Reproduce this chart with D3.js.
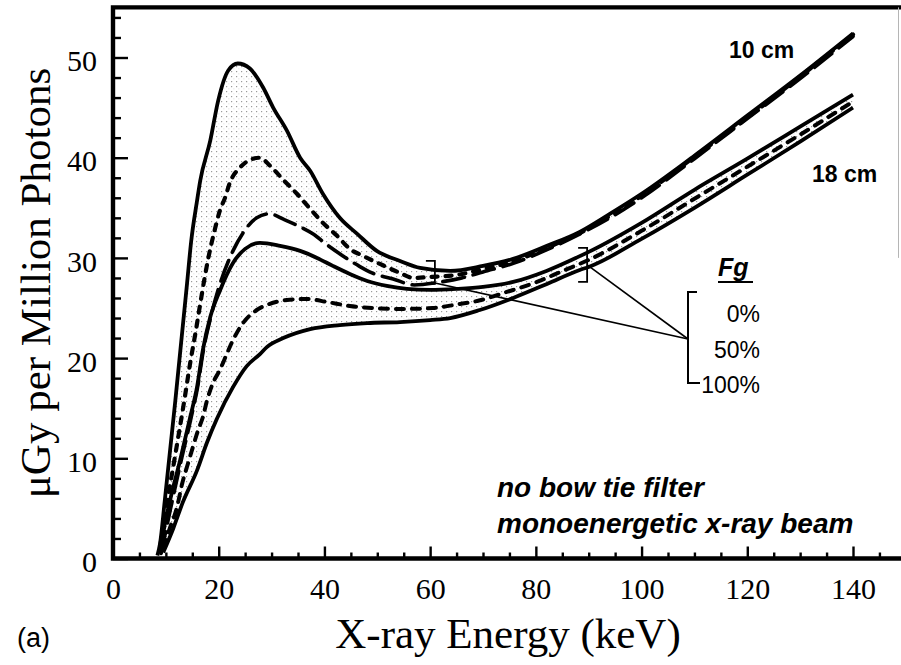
<!DOCTYPE html>
<html>
<head>
<meta charset="utf-8">
<script src="https://cdn.jsdelivr.net/npm/d3@7"></script>
<style>
  html, body { margin: 0; padding: 0; background: #fff; }
  svg { display: block; }
</style>
</head>
<body>
<svg id="chart" width="901" height="665"></svg>
<script>
// Absorbed dose per million photons vs monoenergetic x-ray energy.
// Each series holds [energy (keV), dose (µGy per million photons)].

const xMajorTicks = [0, 20, 40, 60, 80, 100, 120, 140];
const yMajorTicks = [0, 10, 20, 30, 40, 50];
const fgLevels = ["0%", "50%", "100%"];
const depthLabels = ["10 cm", "18 cm"];

// 10 cm phantom
const cm10_fg0 = [[8.4,0.3],[8.9,1.5],[9.8,5.8],[11.8,15.8],[14.0,27.4],[14.8,31.7],[15.9,35.7],[16.5,37.7],[18.4,41.7],[19.9,45.7],[21.8,48.7],[23.6,49.4],[25.9,48.9],[28.4,47.0],[30.3,45.0],[32.9,42.7],[35.4,40.0],[37.3,38.7],[39.7,36.4],[42.9,34.0],[46.2,32.4],[49.9,30.7],[54.3,29.7],[58.1,29.0],[63.8,28.7],[70,29.2],[75.7,29.9],[82.1,31.2],[88.3,32.6],[94,34.4],[100,36.4],[110,40.2],[120,44.2],[130,48.2],[140,52.4]];
const cm10_fg50 = [[8.9,1.1],[9.9,4.5],[11.7,10.1],[13.5,15.8],[14.6,19.5],[15.6,22.5],[16.5,25.4],[17.4,28.2],[18.0,29.9],[19.3,32.9],[20.2,34.7],[21.2,36.0],[22.1,37.5],[24.0,39.0],[26.5,39.9],[27.8,40.0],[29.7,39.2],[32.2,37.8],[34.8,36.4],[37.3,34.9],[39.7,33.5],[42.4,32.2],[44.8,30.9],[47.3,30.2],[50.5,29.4],[54.3,28.5],[56.8,28.0],[60,28.1],[65,28.3],[70,28.9],[76,29.7],[82,31.0],[88,32.4],[94,34.2],[100,36.2],[110,40.1],[120,44.0],[130,48.1],[140,52.3]];
const cm10_fg100 = [[9.1,0.5],[10.9,5.0],[12.9,9.8],[14.8,14.1],[16.0,17.1],[17.1,20.8],[18.4,23.9],[20.0,27.0],[22.7,30.7],[25.0,32.8],[27.2,34.0],[29.5,34.4],[32.5,33.8],[35.0,33.2],[37.8,32.4],[40.5,31.3],[43.5,30.2],[46.5,29.2],[49.0,28.5],[53.0,27.9],[57.0,27.3],[62,27.6],[66,28.0],[70,28.6],[76,29.5],[82,30.8],[88,32.3],[94,34.0],[100,36.0],[110,39.9],[120,43.9],[130,47.9],[140,52.1]];

// 18 cm phantom
const cm18_fg0 = [[9.0,0.5],[9.3,1.8],[10.8,5.8],[12.7,9.8],[14.6,14.1],[15.9,17.1],[17.0,20.8],[18.4,24.1],[20.2,26.7],[22.7,29.5],[25.0,30.9],[27.8,31.5],[31.6,31.2],[35.4,30.7],[38.6,30.0],[41.6,29.2],[44.8,28.4],[48.1,27.7],[51.8,27.2],[55.6,26.9],[60,26.8],[65,26.9],[70,27.1],[75.7,27.6],[82,28.7],[88,30.1],[90,30.6],[100,33.5],[110,36.8],[120,39.9],[130,43.1],[140,46.3]];
const cm18_fg50 = [[9.5,1.1],[10.8,3.1],[12.1,5.1],[13.1,7.5],[14.2,9.5],[15.1,11.1],[16.1,12.8],[17.0,14.1],[17.8,15.8],[18.9,17.5],[20.2,18.8],[21.6,20.5],[22.7,21.8],[24.6,23.5],[27.2,24.8],[29.1,25.3],[32.9,25.8],[36.7,25.9],[40.5,25.6],[44.8,25.2],[49.2,25.0],[54.3,24.9],[60.5,25.0],[65.6,25.4],[68.9,25.7],[74.5,26.6],[80.2,27.6],[85.1,28.7],[90,29.8],[100,32.7],[110,35.9],[120,39.1],[130,42.3],[140,45.6]];
const cm18_fg100 = [[9.5,0.6],[11.4,3.0],[13.2,5.6],[15.9,8.8],[17.8,11.6],[19.7,14.0],[22.7,17.1],[25.3,19.2],[27.8,20.4],[29.1,21.1],[32.2,22.0],[37.3,22.9],[42.9,23.3],[48.1,23.5],[54.3,23.6],[60,23.8],[63.8,24.0],[69.4,24.8],[75.7,26.0],[82.1,27.4],[88.3,28.8],[90,29.1],[100,31.9],[110,35.0],[120,38.3],[130,41.6],[140,45.0]];

const xMax = 148.8;   // right edge of the frame (keV)
const yMax = 55;      // top edge of the frame

const svg = d3.select("#chart");
const x = d3.scaleLinear().domain([0, 140]).range([113, 853]);
const y = d3.scaleLinear().domain([0, 50]).range([558.5, 57.5]);

const serif = "'Liberation Serif','Times New Roman',serif";
const sans = "'Liberation Sans',Arial,Helvetica,sans-serif";

// stipple fill for the dose bands
const defs = svg.append("defs");
const pat = defs.append("pattern").attr("id", "stipple")
  .attr("width", 5).attr("height", 5).attr("patternUnits", "userSpaceOnUse");
pat.append("rect").attr("x", 1).attr("y", 1).attr("width", 1.2).attr("height", 1.2).attr("fill", "#9a9a9a");
pat.append("rect").attr("x", 3.5).attr("y", 3.5).attr("width", 0.8).attr("height", 0.8).attr("fill", "#c4c4c4");
defs.append("clipPath").attr("id", "plotClip").append("rect")
  .attr("x", x(0)).attr("y", y(yMax)).attr("width", x(xMax) - x(0)).attr("height", y(0) - y(yMax));

const plot = svg.append("g").attr("clip-path", "url(#plotClip)");

const lineGen = d3.line().x(d => x(d[0])).y(d => y(d[1])).curve(d3.curveMonotoneX);
const polyGen = d3.line().x(d => x(d[0])).y(d => y(d[1])).curve(d3.curveLinearClosed);

// shaded bands between the outer curves of each phantom size
plot.append("path").attr("d", polyGen(cm10_fg0.concat(cm10_fg100.slice().reverse())))
  .attr("fill", "url(#stipple)");
plot.append("path").attr("d", polyGen(cm18_fg0.concat(cm18_fg100.slice().reverse())))
  .attr("fill", "url(#stipple)");

const series = [
  { data: cm10_fg0,   dash: null,   w: 3.8 },
  { data: cm10_fg50,  dash: "6,8",  w: 4.2 },
  { data: cm10_fg100, dash: "22,9", w: 3.6 },
  { data: cm18_fg0,   dash: null,   w: 3.8 },
  { data: cm18_fg50,  dash: "8,8",  w: 4.0 },
  { data: cm18_fg100, dash: null,   w: 3.8 }
];
plot.selectAll("path.curve").data(series).enter().append("path")
  .attr("class", "curve")
  .attr("d", d => lineGen(d.data))
  .attr("fill", "none")
  .attr("stroke", "#000")
  .attr("stroke-width", d => d.w)
  .attr("stroke-linejoin", "round")
  .attr("stroke-linecap", d => d.dash ? "round" : "butt")
  .attr("stroke-dasharray", d => d.dash);

// axes: ticks point into the plot
const xMinor = d3.range(0, xMax, 5).filter(v => v % 20 !== 0);
const yMinor = d3.range(0, yMax + 0.1, 2).filter(v => v % 10 !== 0);

const xAxis = svg.append("g").attr("transform", `translate(0,${y(0)})`)
  .call(d3.axisBottom(x).tickValues(xMajorTicks).tickSizeInner(-12).tickSizeOuter(0).tickPadding(19));
const xAxisMinor = svg.append("g").attr("transform", `translate(0,${y(0)})`)
  .call(d3.axisBottom(x).tickValues(xMinor).tickSizeInner(-6).tickSizeOuter(0).tickFormat(""));
const yAxis = svg.append("g").attr("transform", `translate(${x(0)},0)`)
  .call(d3.axisLeft(y).tickValues(yMajorTicks).tickSizeInner(-15).tickSizeOuter(0).tickPadding(16));
const yAxisMinor = svg.append("g").attr("transform", `translate(${x(0)},0)`)
  .call(d3.axisLeft(y).tickValues(yMinor).tickSizeInner(-8).tickSizeOuter(0).tickFormat(""));

[xAxis, xAxisMinor, yAxis, yAxisMinor].forEach(g => {
  g.select(".domain").remove();
  g.selectAll(".tick line").attr("stroke", "#000").attr("stroke-width", 2.4);
  g.selectAll(".tick text").attr("fill", "#000").attr("font-family", serif).attr("font-size", 30);
});
yAxis.selectAll(".tick text").attr("dy", "0.44em");

// frame
svg.append("path")
  .attr("d", `M${x(xMax)},${y(0)}H${x(0)}V${y(yMax)}H${x(xMax)}`)
  .attr("fill", "none").attr("stroke", "#000").attr("stroke-width", 4.4)
  .attr("stroke-linecap", "square");
svg.append("line")
  .attr("x1", x(xMax) - 1).attr("x2", x(xMax) - 1)
  .attr("y1", y(yMax)).attr("y2", y(30))
  .attr("stroke", "#b5b5b5").attr("stroke-width", 1);

// axis titles
svg.append("text")
  .attr("transform", `translate(50,283) rotate(-90)`)
  .attr("text-anchor", "middle")
  .attr("font-family", serif).attr("font-size", 43)
  .text("\u03BCGy per Million Photons");
svg.append("text")
  .attr("x", 508).attr("y", 648)
  .attr("text-anchor", "middle")
  .attr("font-family", serif).attr("font-size", 43)
  .text("X-ray Energy (keV)");
svg.append("text")
  .attr("x", 17).attr("y", 647)
  .attr("font-family", sans).attr("font-size", 27)
  .text("(a)");

// phantom size labels
svg.append("text").attr("x", 729).attr("y", 58)
  .attr("font-family", sans).attr("font-weight", "bold").attr("font-size", 23)
  .text(depthLabels[0]);
svg.append("text").attr("x", 812).attr("y", 182)
  .attr("font-family", sans).attr("font-weight", "bold").attr("font-size", 23)
  .text(depthLabels[1]);

// brackets marking each phantom's group of curves
function bracket(xv, yTop, yBot) {
  const px = x(xv);
  svg.append("path")
    .attr("d", `M${px - 9},${y(yTop)}H${px}V${y(yBot)}H${px - 9}`)
    .attr("fill", "none").attr("stroke", "#000").attr("stroke-width", 1.8);
}
bracket(60.9, 29.7, 27.4);
bracket(89.7, 31.0, 27.6);

// Fg legend
const legX = 688;
svg.append("text").attr("x", 718).attr("y", 276)
  .attr("font-family", sans).attr("font-weight", "bold").attr("font-style", "italic")
  .attr("font-size", 25).text("Fg");
svg.append("line").attr("x1", 718).attr("x2", 753).attr("y1", 282).attr("y2", 282)
  .attr("stroke", "#000").attr("stroke-width", 2.2);
svg.append("path")
  .attr("d", `M${legX + 9},292H${legX}V383H${legX + 12}`)
  .attr("fill", "none").attr("stroke", "#000").attr("stroke-width", 2);
svg.selectAll("text.fg").data(fgLevels).enter().append("text")
  .attr("class", "fg")
  .attr("x", 760).attr("y", (d, i) => 322 + i * 35.5)
  .attr("text-anchor", "end")
  .attr("font-family", sans).attr("font-size", 23)
  .text(d => d);

// leader lines from the legend to the brackets
[[89.7, 29.3], [60.9, 27.5]].forEach(p => {
  svg.append("line")
    .attr("x1", legX).attr("y1", 339)
    .attr("x2", x(p[0])).attr("y2", y(p[1]))
    .attr("stroke", "#000").attr("stroke-width", 1.6);
});

// beam description
svg.append("text").attr("x", 497).attr("y", 497)
  .attr("font-family", sans).attr("font-weight", "bold").attr("font-style", "italic")
  .attr("font-size", 28).text("no bow tie filter");
svg.append("text").attr("x", 497).attr("y", 533)
  .attr("font-family", sans).attr("font-weight", "bold").attr("font-style", "italic")
  .attr("font-size", 28).text("monoenergetic x-ray beam");
</script>
</body>
</html>
